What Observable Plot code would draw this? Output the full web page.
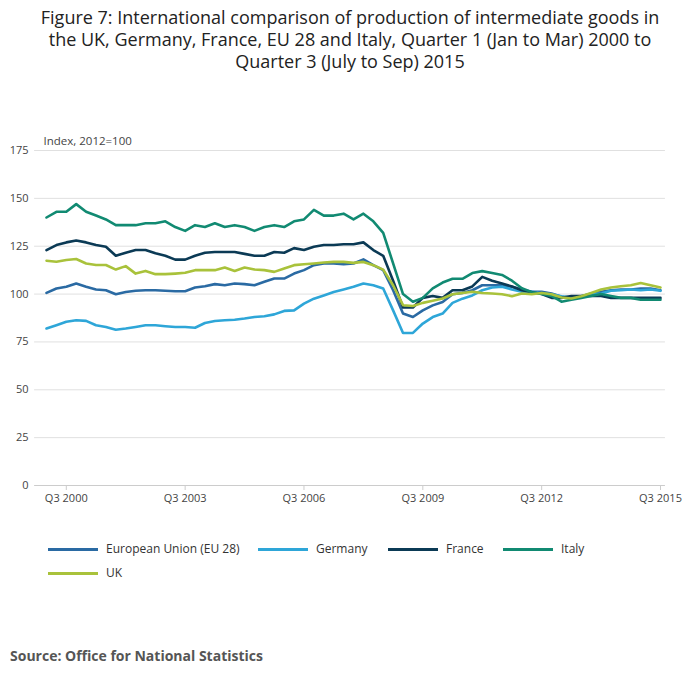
<!DOCTYPE html>
<html><head><meta charset="utf-8">
<script src="https://cdn.jsdelivr.net/npm/d3@7"></script>
<script src="https://cdn.jsdelivr.net/npm/@observablehq/plot@0.6"></script>
<style>
body{margin:0;width:700px;height:682px;font-family:"Open Sans",sans-serif;background:#fff;position:relative;overflow:hidden}
#title{position:absolute;top:6px;left:0;width:700px;text-align:center;font-size:18px;line-height:22px;color:#222}
#title div{height:22px;overflow:visible}
#chart{position:absolute;top:100px;left:0}
#legend{position:absolute;top:540px;left:48px;width:640px;font-size:12px;color:#333}
.li{position:absolute;white-space:nowrap}
.sw{display:inline-block;width:50px;height:3px;vertical-align:middle;margin-right:8px}
#src{position:absolute;top:646px;left:10px;font-size:14px;font-weight:bold;color:#555}
</style></head><body>
<div id="title"><div>Figure 7: International comparison of production of intermediate goods in</div><div>the UK, Germany, France, EU 28 and Italy, Quarter 1 (Jan to Mar) 2000 to</div><div>Quarter 3 (July to Sep) 2015</div></div>
<div id="chart"></div>
<div id="legend"></div>
<div id="src">Source: Office for National Statistics</div>
<script>
const tickLabels = ["Q3 2000","Q3 2003","Q3 2006","Q3 2009","Q3 2012","Q3 2015"];
const tickIdx = [2,14,26,38,50,62];
const seriesNames = ["European Union (EU 28)","Germany","France","Italy","UK"];
const colors = ["#2a6aa3","#2ea6d8","#0b3a55","#118a72","#a9c23b"];
const eu = [100.6,102.9,103.8,105.5,103.8,102.4,102,99.9,101.1,101.7,102,102,101.7,101.5,101.5,103.4,104.1,105.2,104.6,105.5,105.2,104.6,106.4,108.1,108.1,110.7,112.5,115.1,116,116,
115.6,116,118.1,115.1,112.5,102,89.8,88,91.5,94.1,95.9,99.9,100.6,102,104.6,104.6,104.6,103.8,102.4,101.2,101.2,100.3,98.6,97.7,98.9,100.3,101.2,102,102.4,102.4,102.9,102.9,102];
const germany = [82,83.7,85.5,86.3,86,83.7,82.8,81.4,82,82.8,83.7,83.7,83.2,82.8,82.8,82.4,84.9,85.9,86.3,86.6,87.2,88,88.4,89.4,91.2,91.5,95,97.6,99.3,101.1,
102.4,103.8,105.5,104.6,102.9,91.5,79.7,79.7,84.6,88,89.8,95.4,97.6,99.3,102,103.4,103.8,102.4,101.2,101.2,100.3,99.9,98.9,98.2,98.9,99.9,100.3,101.7,102,102.4,102,102.4,101.7];
const france = [123,125.6,127,128,127,125.6,124.7,120,121.6,123,123,121.3,120,118,118,120,121.6,122,122,122,121,120,120,122,121.6,124,123,124.7,125.6,125.6,
126,126,127,123,120,107,93,93,98,99,98,102,102,104,109,107,105.5,104,102,101,100,98,98,99,99,99,99,98,98,98,98,98,98];
const italy = [140,143,143,147,143,141,139,136,136,136,137,137,138,135,133,136,135,137,135,136,135,133,135,136,135,138,139,144,141,141,
142,139,142,138,132,116,100,96,98,103,106,108,108,111,112,111,110,107,103,101,100,99,96,97,98,99,100,99,98,98,97,97,97];
const uk = [117.4,116.9,117.8,118.3,116,115.2,115.2,112.8,114.6,110.7,112.1,110.4,110.4,110.7,111.1,112.5,112.5,112.5,113.9,112.1,113.9,112.8,112.5,111.6,113.4,115.1,115.6,116,116.5,116.8,
116.8,116.3,116.8,115.1,112.8,104.6,94.2,93.8,95.4,96.5,97.7,99.9,100.6,101.2,100.6,100.3,99.9,98.9,100.3,99.9,100.6,99.9,98.2,97.7,98.9,100.6,102.4,103.4,104.1,104.6,105.8,104.6,103.4];
const all = [eu,germany,france,italy,uk];
const data = [];
all.forEach((arr,s)=>arr.forEach((v,i)=>data.push({i,v,s:seriesNames[s]})));
const chart = Plot.plot({
  width:700,height:420,marginTop:50,marginBottom:35,marginLeft:46,marginRight:40,
  style:{fontFamily:"Open Sans, sans-serif",fontSize:"11px",color:"#444"},
  x:{domain:[0,62],label:null},
  y:{domain:[0,175],label:null},
  color:{domain:seriesNames,range:colors},
  marks:[
    Plot.ruleY(d3.range(25,176,25),{stroke:"#e0e0e0",x1:-1.2,x2:62.5}),
    Plot.ruleY([0],{stroke:"#ccc",x1:-1.2,x2:62.5}),
    Plot.axisX({ticks:tickIdx,tickFormat:d=>tickLabels[tickIdx.indexOf(d)],tickSize:5,stroke:"#ccc",label:null}),
    Plot.axisY({ticks:d3.range(0,176,25),tickSize:0,tickPadding:18,label:null}),
    Plot.text(["Index, 2012=100"],{frameAnchor:"top-left",dx:-3,dy:-14,fontSize:11.5,fill:"#444"}),
    Plot.line(data,{x:"i",y:"v",z:"s",stroke:"s",strokeWidth:2.6,curve:"linear"})
  ]
});
document.getElementById("chart").appendChild(chart);
const lg=document.getElementById("legend");
const pos=[[0,0],[210,0],[340,0],[455,0],[0,24]];
seriesNames.forEach((n,k)=>{const d=document.createElement("div");d.className="li";d.style.left=pos[k][0]+"px";d.style.top=pos[k][1]+"px";
d.innerHTML=`<span class="sw" style="background:${colors[k]}"></span>${n}`;lg.appendChild(d);});
</script></body></html>
